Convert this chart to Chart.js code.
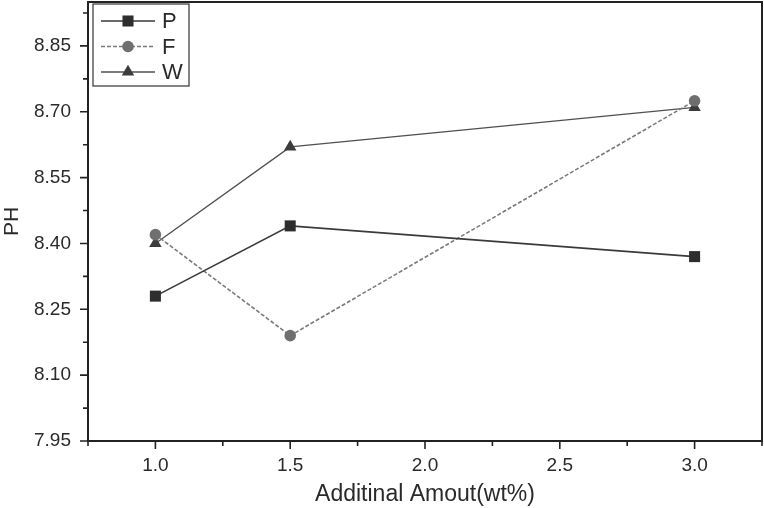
<!DOCTYPE html>
<html>
<head>
<meta charset="utf-8">
<script src="https://cdn.jsdelivr.net/npm/chart.js@4/dist/chart.umd.min.js"></script>
<style>
html,body{margin:0;padding:0;background:#fff;}
#wrap{width:764px;height:508px;position:relative;}
</style>
</head>
<body>
<div id="wrap"><canvas id="c" width="764" height="508"></canvas></div>
<script>
const amounts = [1.0, 1.5, 3.0];
const seriesNames = ['P', 'F', 'W'];
const pValues = [8.28, 8.44, 8.37];
const fValues = [8.42, 8.19, 8.725];
const wValues = [8.40, 8.62, 8.71];
const xMajorTicks = [1.0, 1.5, 2.0, 2.5, 3.0];
const xMinorTicks = [0.75, 1.25, 1.75, 2.25, 2.75, 3.25];
const yMajorTicks = [7.95, 8.10, 8.25, 8.40, 8.55, 8.70, 8.85];
const yMinorTicks = [8.025, 8.175, 8.325, 8.475, 8.625, 8.775, 8.925];
const xTitle = 'Additinal Amout(wt%)';
const yTitle = 'PH';

const toPts = vals => amounts.map((a, i) => ({x: a, y: vals[i]}));

const FONT = "'Liberation Sans', Arial, sans-serif";
const TEXT = '#2a2a2a';

const ticksPlugin = {
  id: 'ticksBox',
  afterDraw(chart) {
    const ctx = chart.ctx, a = chart.chartArea;
    const xs = chart.scales.x, ys = chart.scales.y;
    ctx.save();
    ctx.strokeStyle = '#222';
    ctx.lineWidth = 2;
    ctx.beginPath();
    ctx.moveTo(a.left, a.top); ctx.lineTo(a.right, a.top); ctx.lineTo(a.right, a.bottom);
    ctx.stroke();
    ctx.lineWidth = 1.6;
    ctx.beginPath();
    xMajorTicks.forEach(v => { const p = xs.getPixelForValue(v); ctx.moveTo(p, a.bottom); ctx.lineTo(p, a.bottom + 8); });
    xMinorTicks.forEach(v => { const p = xs.getPixelForValue(v); ctx.moveTo(p, a.bottom); ctx.lineTo(p, a.bottom + 5); });
    yMajorTicks.forEach(v => { const p = ys.getPixelForValue(v); ctx.moveTo(a.left, p); ctx.lineTo(a.left - 8, p); });
    yMinorTicks.forEach(v => { const p = ys.getPixelForValue(v); ctx.moveTo(a.left, p); ctx.lineTo(a.left - 5, p); });
    ctx.stroke();

    // legend
    const lx = 93, ly = 4, lw = 96, lh = 82;
    ctx.lineWidth = 1.2;
    ctx.strokeStyle = '#333';
    ctx.fillStyle = '#fff';
    ctx.fillRect(lx, ly, lw, lh);
    ctx.strokeRect(lx, ly, lw, lh);
    chart.data.datasets.forEach((ds, i) => {
      const y = 21 + i * 25.5;
      ctx.save();
      ctx.strokeStyle = ds.borderColor;
      ctx.lineWidth = ds.borderWidth;
      ctx.setLineDash(ds.borderDash || []);
      ctx.beginPath(); ctx.moveTo(101, y); ctx.lineTo(155, y); ctx.stroke();
      ctx.restore();
      drawMarker(ctx, ds.pointStyle, 128, y, ds.pointRadius, ds.pointBackgroundColor);
      ctx.fillStyle = TEXT;
      ctx.font = '22px ' + FONT;
      ctx.textBaseline = 'middle';
      ctx.textAlign = 'left';
      ctx.fillText(ds.label, 162, y + 1);
    });
    ctx.restore();
  }
};

function drawMarker(ctx, style, x, y, r, color) {
  ctx.save();
  ctx.fillStyle = color;
  ctx.beginPath();
  if (style === 'rect') {
    const s = Math.SQRT1_2 * r;
    ctx.rect(x - s, y - s, 2 * s, 2 * s);
  } else if (style === 'triangle') {
    ctx.moveTo(x, y - r);
    ctx.lineTo(x + r * Math.sin(Math.PI * 2 / 3), y - r * Math.cos(Math.PI * 2 / 3));
    ctx.lineTo(x - r * Math.sin(Math.PI * 2 / 3), y - r * Math.cos(Math.PI * 2 / 3));
    ctx.closePath();
  } else {
    ctx.arc(x, y, r, 0, Math.PI * 2);
  }
  ctx.fill();
  ctx.restore();
}

const noPad = s => { s.paddingTop = 0; s.paddingBottom = 0; s.paddingLeft = 0; s.paddingRight = 0; };

new Chart(document.getElementById('c'), {
  type: 'line',
  data: {
    datasets: [
      {label: seriesNames[0], data: toPts(pValues), borderColor: '#3a3a3a', borderWidth: 1.6,
       pointStyle: 'rect', pointRadius: 7.8, pointBackgroundColor: '#2e2e2e', pointBorderWidth: 0, borderDash: []},
      {label: seriesNames[1], data: toPts(fValues), borderColor: '#7a7a7a', borderWidth: 1.6,
       pointStyle: 'circle', pointRadius: 5.8, pointBackgroundColor: '#6f6f6f', pointBorderWidth: 0, borderDash: [4, 2]},
      {label: seriesNames[2], data: toPts(wValues), borderColor: '#505050', borderWidth: 1.4,
       pointStyle: 'triangle', pointRadius: 7.2, pointBackgroundColor: '#3c3c3c', pointBorderWidth: 0, borderDash: []}
    ]
  },
  options: {
    responsive: false,
    animation: false,
    events: [],
    layout: {autoPadding: false, padding: {top: 2, right: 2, left: 0, bottom: 0}},
    plugins: {legend: {display: false}, tooltip: {enabled: false}},
    scales: {
      x: {
        type: 'linear', min: 0.75, max: 3.25,
        afterBuildTicks: s => { s.ticks = xMajorTicks.map(v => ({value: v})); },
        afterFit: s => { s.height = 67; noPad(s); },
        grid: {drawOnChartArea: false, color: 'rgba(0,0,0,0)', tickLength: 8},
        border: {display: true, color: '#222', width: 2},
        ticks: {color: TEXT, font: {family: FONT, size: 19}, padding: 5, maxRotation: 0,
                callback: v => Number(v).toFixed(1)},
        title: {display: true, text: xTitle, color: TEXT, font: {family: FONT, size: 23}, padding: {top: 0, bottom: 0}}
      },
      y: {
        type: 'linear', min: 7.95, max: 8.95,
        afterBuildTicks: s => { s.ticks = yMajorTicks.map(v => ({value: v})); },
        afterFit: s => { s.width = 88; noPad(s); },
        grid: {drawOnChartArea: false, color: 'rgba(0,0,0,0)', tickLength: 8},
        border: {display: true, color: '#222', width: 2},
        ticks: {color: TEXT, font: {family: FONT, size: 19}, padding: 9,
                callback: v => Number(v).toFixed(2)},
        title: {display: true, text: yTitle, color: TEXT, font: {family: FONT, size: 21}, padding: {top: 0, bottom: 0}}
      }
    }
  },
  plugins: [ticksPlugin]
});
</script>
</body>
</html>
